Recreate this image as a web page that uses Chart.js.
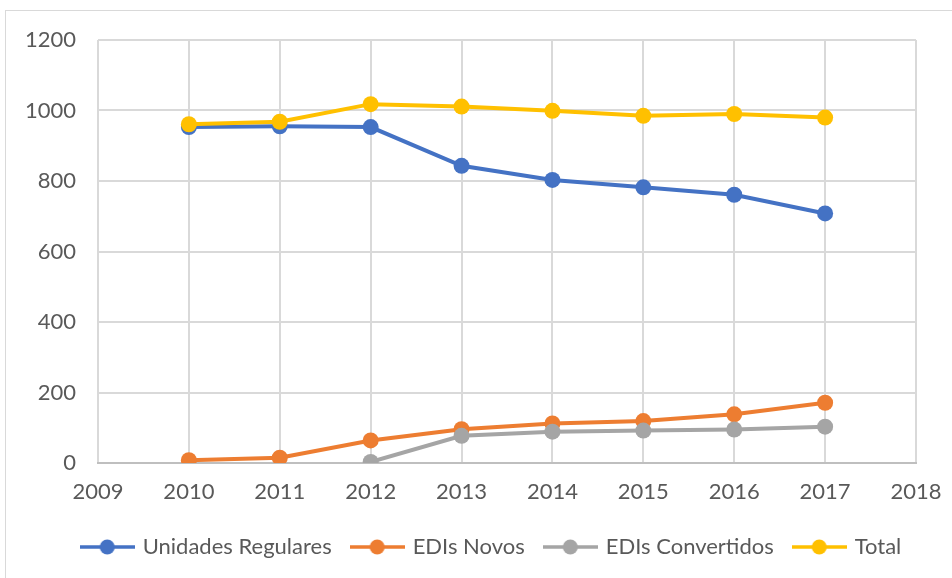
<!DOCTYPE html>
<html>
<head>
<meta charset="utf-8">
<script src="https://cdn.jsdelivr.net/npm/chart.js@4"></script>
<style>
    body { margin: 0; background: #fff; }
    .wrap { position: relative; width: 952px; height: 578px; overflow: hidden; }
    .frame { position: absolute; left: 5px; top: 10px; width: 975px; height: 580px; border: 1px solid #d9d9d9; }
    canvas { position: absolute; left: 0; top: 0; }
</style>
</head>
<body>
<div class="wrap">
    <div class="frame"></div>
    <canvas id="line-chart" width="984" height="578"></canvas>
</div>
<script>
const years = [2010, 2011, 2012, 2013, 2014, 2015, 2016, 2017];
const regulares = [953, 955, 953, 843, 803, 782, 761, 708];
const edisNovos = [8, 15, 64, 96, 112, 119, 138, 171];
const edisConvertidos = [null, null, 3, 77, 89, 92, 95, 103];
const total = [961, 968, 1018, 1011, 999, 985, 990, 980];
const yTicks = [0, 200, 400, 600, 800, 1000, 1200];

const lineCanvas = document.getElementById('line-chart');
const textColor = '#595959';
const fontFamily = 'Lato, "Liberation Sans", sans-serif';

// legend marker: line with a dot in the middle
const legendMarker = color => {
    const c = document.createElement('canvas');
    c.width = 55;
    c.height = 20;
    const ctx = c.getContext('2d');
    ctx.strokeStyle = color;
    ctx.lineWidth = 3.5;
    ctx.beginPath();
    ctx.moveTo(0, 10);
    ctx.lineTo(55, 10);
    ctx.stroke();
    ctx.fillStyle = color;
    ctx.beginPath();
    ctx.arc(27.5, 10, 7.5, 0, Math.PI * 2);
    ctx.fill();
    return c;
};

const makeSeries = (label, values, color, order) => ({
    label: label,
    data: years.map((yr, i) => ({ x: yr, y: values[i] })),
    borderColor: color,
    backgroundColor: color,
    borderWidth: 4,
    pointRadius: 8,
    pointHoverRadius: 8,
    pointBorderWidth: 0,
    tension: 0,
    order: order,
    marker: legendMarker(color)
});

const lineData = {
    datasets: [
        makeSeries('Unidades Regulares', regulares, '#4472C4', 4),
        makeSeries('EDIs Novos', edisNovos, '#ED7D31', 3),
        makeSeries('EDIs Convertidos', edisConvertidos, '#A5A5A5', 2),
        makeSeries('Total', total, '#FFC000', 1)
    ]
};

const lineOptions = {
    responsive: false,
    animation: false,
    layout: {
        padding: { left: 0, right: 0, top: 40, bottom: 10 }
    },
    scales: {
        x: {
            type: 'linear',
            min: 2009,
            max: 2018,
            afterFit: scale => {
                scale.height = 52;
            },
            ticks: {
                stepSize: 1,
                color: textColor,
                font: { family: fontFamily, size: 22 },
                padding: 16,
                callback: v => String(v)
            },
            grid: { color: '#d9d9d9', lineWidth: 2, drawTicks: false },
            border: { display: true, color: '#bfbfbf', width: 2 }
        },
        y: {
            min: 0,
            max: 1200,
            afterBuildTicks: scale => {
                scale.ticks = yTicks.map(v => ({ value: v }));
            },
            afterFit: scale => {
                scale.width = 98;
            },
            ticks: {
                color: textColor,
                font: { family: fontFamily, size: 22 },
                padding: 22,
                callback: v => String(v)
            },
            grid: { color: '#d9d9d9', lineWidth: 2, drawTicks: false },
            border: { display: false }
        },
        // empty axis, only keeps the right margin of the plot
        yRight: {
            position: 'right',
            min: 0,
            max: 1200,
            afterFit: scale => {
                scale.width = 68;
            },
            ticks: { display: false },
            grid: { display: false },
            border: { display: false }
        }
    },
    plugins: {
        legend: {
            position: 'bottom',
            labels: {
                usePointStyle: true,
                pointStyleWidth: 49,
                padding: 21,
                color: textColor,
                font: { family: fontFamily, size: 22 },
                generateLabels: chart => chart.data.datasets.map((ds, i) => ({
                    text: ds.label,
                    pointStyle: ds.marker,
                    fillStyle: ds.borderColor,
                    strokeStyle: ds.borderColor,
                    lineWidth: 0,
                    fontColor: textColor,
                    datasetIndex: i,
                    hidden: false
                }))
            }
        },
        tooltip: { enabled: false }
    }
};

let lineChart = new Chart(lineCanvas, {
    type: 'line',
    data: lineData,
    options: lineOptions
});
</script>
</body>
</html>
